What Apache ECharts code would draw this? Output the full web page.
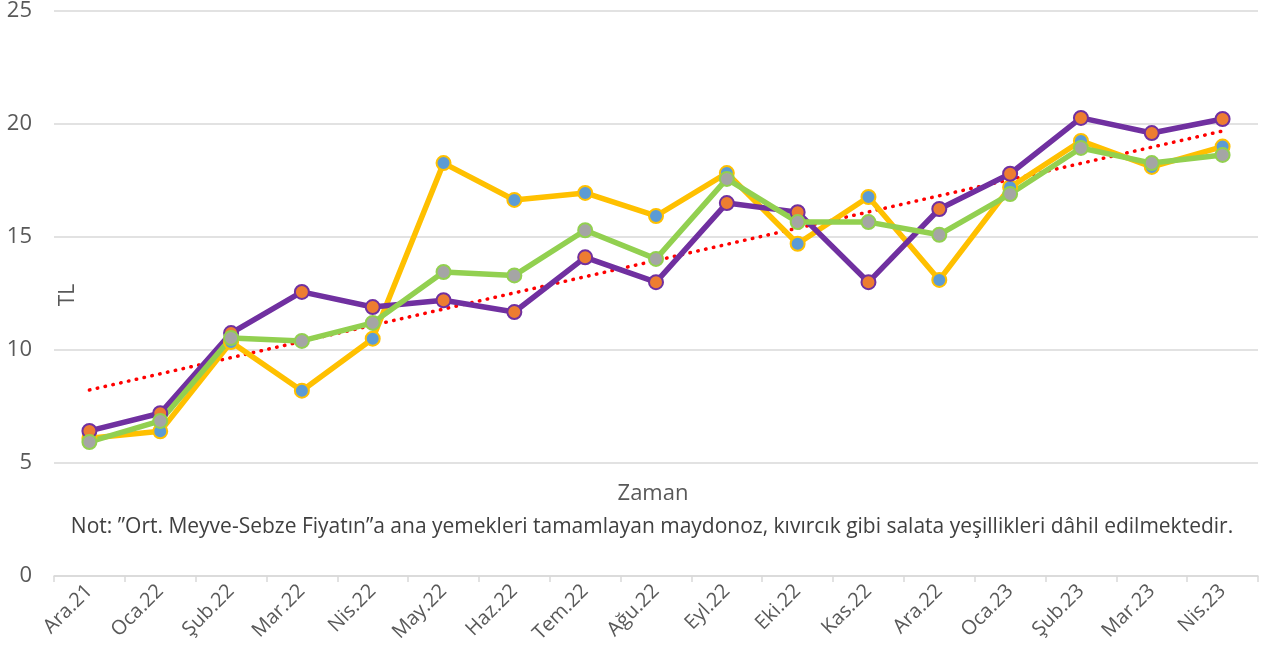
<!DOCTYPE html>
<html>
<head>
<meta charset="utf-8">
<script src="https://cdn.jsdelivr.net/npm/echarts@6/dist/echarts.min.js"></script>
<style>
  html, body { margin: 0; padding: 0; background: #fff; }
  #chart { width: 1272px; height: 659px; }
</style>
</head>
<body>
<div id="chart"></div>
<script>
// aylar
const months = ['Ara.21', 'Oca.22', 'Şub.22', 'Mar.22', 'Nis.22', 'May.22', 'Haz.22', 'Tem.22', 'Ağu.22',
  'Eyl.22', 'Eki.22', 'Kas.22', 'Ara.22', 'Oca.23', 'Şub.23', 'Mar.23', 'Nis.23'];

// sarı çizgi (mavi işaretler)
const yellowVals = [6.1, 6.4, 10.35, 8.2, 10.5, 18.27, 16.64, 16.95, 15.93, 17.83, 14.7, 16.77, 13.1, 17.2, 19.25, 18.1, 19.0];
// mor çizgi (turuncu işaretler)
const purpleVals = [6.42, 7.2, 10.75, 12.57, 11.9, 12.2, 11.68, 14.1, 13.0, 16.5, 16.1, 13.0, 16.24, 17.8, 20.27, 19.6, 20.22];
// yeşil çizgi (gri işaretler)
const greenVals = [5.93, 6.86, 10.53, 10.4, 11.2, 13.45, 13.3, 15.3, 14.03, 17.57, 15.66, 15.66, 15.1, 16.9, 18.94, 18.27, 18.63];
// doğrusal eğilim çizgisinin uç değerleri (ilk ve son ay)
const trendEnds = [8.23, 19.69];

const yTicks = [0, 5, 10, 15, 20, 25];
const note = 'Not: ”Ort. Meyve-Sebze Fiyatın”a ana yemekleri tamamlayan maydonoz, kıvırcık gibi salata yeşillikleri dâhil edilmektedir.';

const trendVals = months.map((m, i) => i === 0 ? trendEnds[0] : (i === months.length - 1 ? trendEnds[1] : null));

const FONT = '"Open Sans", sans-serif';

const lineSeries = (vals, lineColor, markColor) => ({
  type: 'line',
  data: vals,
  symbol: 'circle',
  symbolSize: 14,
  lineStyle: { color: lineColor, width: 5.5 },
  itemStyle: { color: markColor, borderColor: lineColor, borderWidth: 2 },
  emphasis: { disabled: true },
  z: 3,
});

const chart = echarts.init(document.getElementById('chart'));
const option = {
  animation: false,
  textStyle: { fontFamily: FONT },
  grid: { left: 54, right: 14, top: 11, bottom: 83 },
  xAxis: {
    type: 'category',
    data: months,
    boundaryGap: true,
    axisLine: { lineStyle: { color: '#d9d9d9', width: 1.5 } },
    axisTick: { show: true, length: 6, lineStyle: { color: '#d9d9d9', width: 1.5 } },
    axisLabel: { rotate: 45, fontSize: 20, color: '#595959', fontFamily: FONT, margin: 12, interval: 0 },
  },
  yAxis: {
    type: 'value',
    min: yTicks[0],
    max: yTicks[yTicks.length - 1],
    interval: 5,
    axisLine: { show: false },
    axisTick: { show: false },
    splitLine: { lineStyle: { color: '#d9d9d9', width: 1.5 } },
    axisLabel: { fontSize: 22, color: '#595959', fontFamily: FONT, margin: 22 },
  },
  graphic: [
    {
      type: 'text', x: 68, y: 295, rotation: Math.PI / 2,
      style: { text: 'TL', font: '21px "Open Sans"', fill: '#595959', align: 'center', verticalAlign: 'middle' },
    },
    {
      type: 'text', x: 653, y: 494,
      style: { text: 'Zaman', font: '22px "Open Sans"', fill: '#595959', align: 'center', verticalAlign: 'middle' },
    },
    {
      type: 'text', x: 652, y: 527,
      style: { text: note, font: '21px "Open Sans"', fill: '#404040', align: 'center', verticalAlign: 'middle' },
    },
  ],
  series: [
    lineSeries(yellowVals, '#ffc000', '#5b9bd5'),
    lineSeries(purpleVals, '#7030a0', '#ed7d31'),
    lineSeries(greenVals, '#92d050', '#a5a5a5'),
    {
      type: 'line',
      data: trendVals,
      connectNulls: true,
      symbol: 'none',
      lineStyle: { color: '#ff0000', width: 3.5, type: [0.5, 7.5], cap: 'round' },
      emphasis: { disabled: true },
      z: 2,
    },
  ],
};
chart.setOption(option);
</script>
</body>
</html>
